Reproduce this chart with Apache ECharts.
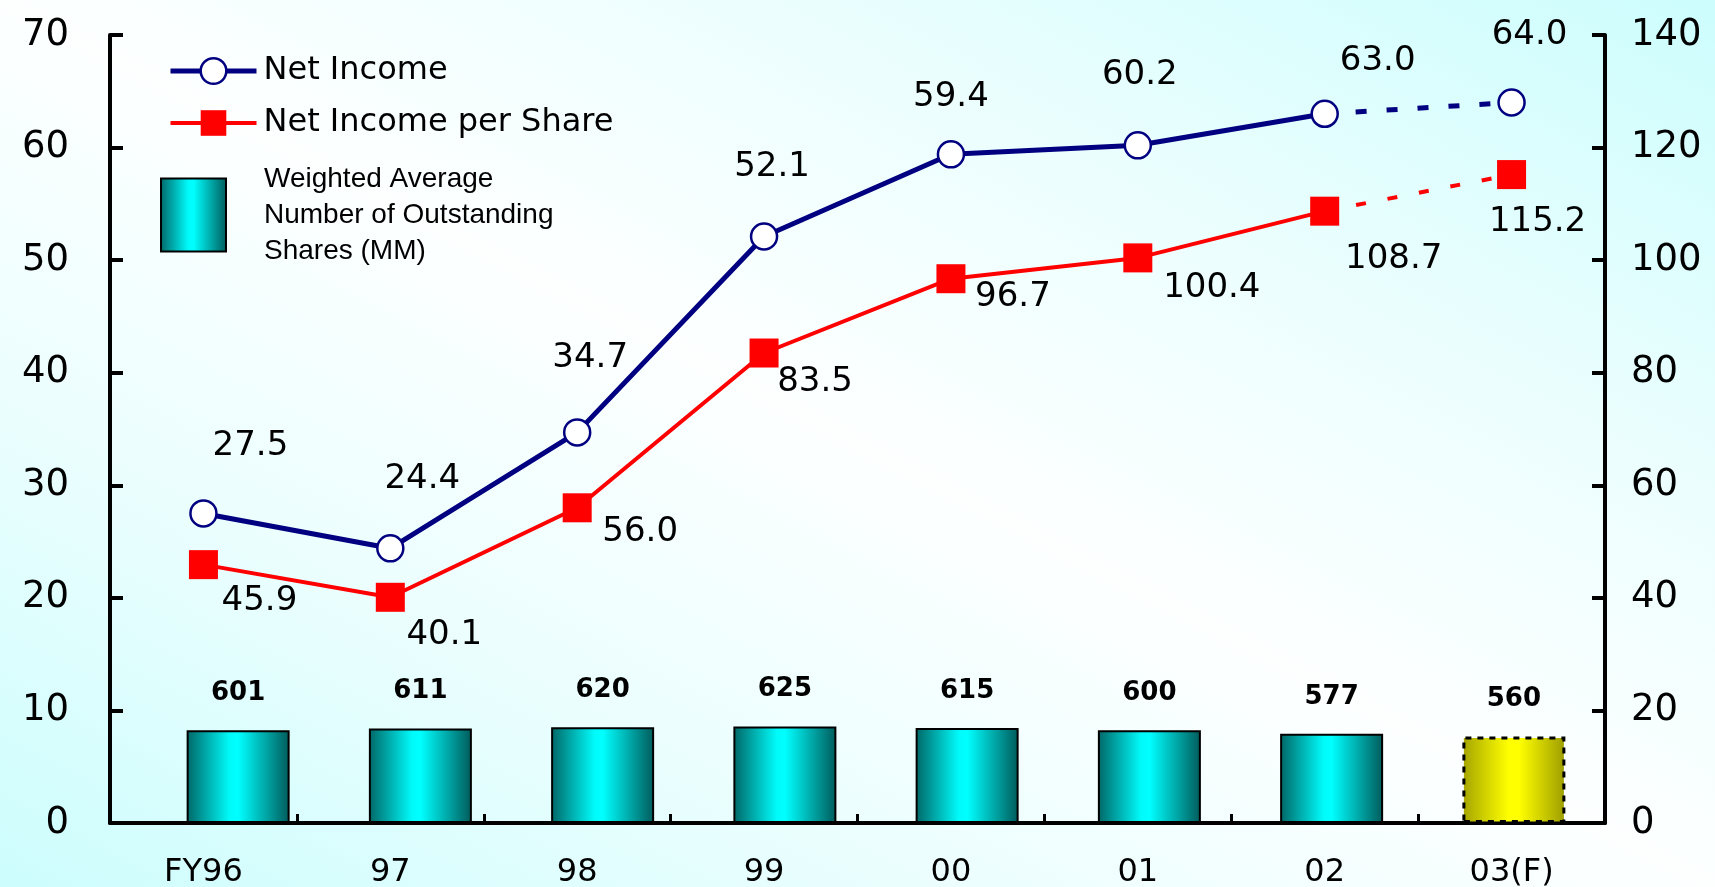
<!DOCTYPE html>
<html><head><meta charset="utf-8">
<script src="https://cdn.jsdelivr.net/npm/echarts@6/dist/echarts.min.js"></script>
<style>
html,body{margin:0;padding:0;width:1715px;height:887px;overflow:hidden;
background:linear-gradient(to bottom left,#cdfdfd 0%,#ecfefe 28%,#fdffff 50%,#ecfefe 72%,#cdfdfd 100%);}
#c{width:1715px;height:887px;}
</style></head><body><div id="c"></div>
<script>
// ---- data ----
const categories = ['FY96', '97', '98', '99', '00', '01', '02', '03(F)'];
const netIncome = [27.5, 24.4, 34.7, 52.1, 59.4, 60.2, 63.0, 64.0];
const netIncomePerShare = [45.9, 40.1, 56.0, 83.5, 96.7, 100.4, 108.7, 115.2];
const sharesOutstanding = [601, 611, 620, 625, 615, 600, 577, 560];
const leftAxisTicks = [0, 10, 20, 30, 40, 50, 60, 70];
const rightAxisTicks = [0, 20, 40, 60, 80, 100, 120, 140];
const forecastIndex = 7;

const NI = 'Net Income';
const NPS = 'Net Income per Share';
const SH = 'Weighted Average Number of Outstanding Shares (MM)';

// ---- styling (label offsets in px, not data) ----
const niLabelOffset = [[47,-67],[32,-69],[13,-74],[8,-69],[0,-57],[2,-70],[53,-53],[18,-67]];
const npsLabelOffset = [[56,37],[54,38],[63,24],[51,29],[62,18],[74,30],[69,48],[26,48]];

const FONT = '"DejaVu Sans", "Liberation Sans", sans-serif';
const FONT2 = '"Liberation Sans", Arial, sans-serif';
const cyanGrad = new echarts.graphic.LinearGradient(0, 0, 1, 0, [
  {offset: 0, color: '#006666'}, {offset: 0.42, color: '#00fafa'},
  {offset: 0.5, color: '#00ffff'}, {offset: 1, color: '#005a5a'}]);
const yellowGrad = new echarts.graphic.LinearGradient(0, 0, 1, 0, [
  {offset: 0, color: '#a4a400'}, {offset: 0.45, color: '#ffff00'},
  {offset: 0.55, color: '#ffff00'}, {offset: 1, color: '#9c9c00'}]);

const lastActual = forecastIndex - 1;
function lineData(values, offsets, solid) {
  return values.map((v, i) => {
    if (solid) {
      if (i > lastActual) return '-';
      return {value: v, label: {offset: offsets[i]}};
    }
    if (i < lastActual) return '-';
    if (i === lastActual) return {value: v, symbol: 'none', label: {show: false}};
    return {value: v, label: {offset: offsets[i]}};
  });
}
const labelBase = {show: true, position: 'inside', fontSize: 34, color: '#000', fontFamily: FONT,
  align: 'center', verticalAlign: 'middle',
  formatter: p => Number(p.value).toFixed(1)};

const niStyle = {
  type: 'line', name: NI, xAxisIndex: 0, yAxisIndex: 0, symbol: 'circle', symbolSize: 26,
  itemStyle: {color: '#ffffff', borderColor: '#000080', borderWidth: 2.5},
  label: labelBase, z: 5
};
const npsStyle = {
  type: 'line', name: NPS, xAxisIndex: 0, yAxisIndex: 1, symbol: 'rect', symbolSize: 29,
  itemStyle: {color: '#ff0000'},
  label: labelBase, z: 4
};

const option = {
  animation: false,
  backgroundColor: 'transparent',
  grid: [
    {left: 110, right: 110, top: 35, bottom: 64, containLabel: false, outerBoundsMode: 'none'},
    {left: 147, right: 110, top: 35, bottom: 64, containLabel: false, outerBoundsMode: 'none'}
  ],
  legend: [
    {
      data: [
        {name: NI, lineStyle: {width: 5, color: '#000080'}, itemStyle: {borderWidth: 2.5, borderColor: '#000080', color: '#fff'}},
        {name: NPS, lineStyle: {width: 4, color: '#ff0000'}}
      ],
      orient: 'vertical', left: 168, top: 55, padding: 0, itemWidth: 86, itemHeight: 32, itemGap: 20,
      selectedMode: false,
      textStyle: {fontSize: 32, color: '#000', fontFamily: FONT, padding: [0, 0, 0, 2]}
    },
    {
      data: [SH], icon: 'rect', orient: 'vertical', left: 160, top: 161, padding: 0,
      itemWidth: 65, itemHeight: 73, selectedMode: false,
      itemStyle: {borderColor: '#000', borderWidth: 2},
      formatter: () => 'Weighted Average\nNumber of Outstanding\nShares (MM)',
      textStyle: {fontSize: 28, lineHeight: 36, color: '#000', fontFamily: FONT2, padding: [0, 0, 0, 33]}
    }
  ],
  xAxis: [
    {
      type: 'category', gridIndex: 0, data: categories, boundaryGap: true,
      axisLine: {lineStyle: {color: '#000', width: 4}},
      axisTick: {show: true, inside: true, length: 9, lineStyle: {color: '#000', width: 3}},
      axisLabel: {fontSize: 32, color: '#000', margin: 34, fontFamily: FONT}
    },
    {type: 'category', gridIndex: 1, data: categories, boundaryGap: true, show: false}
  ],
  yAxis: [
    {
      type: 'value', gridIndex: 0, position: 'left', min: leftAxisTicks[0], max: leftAxisTicks[leftAxisTicks.length - 1],
      interval: leftAxisTicks[1] - leftAxisTicks[0],
      axisLine: {show: true, lineStyle: {color: '#000', width: 4}},
      axisTick: {show: true, inside: true, length: 13, lineStyle: {color: '#000', width: 4}},
      axisLabel: {fontSize: 37, color: '#000', margin: 41, fontFamily: FONT},
      splitLine: {show: false}
    },
    {
      type: 'value', gridIndex: 0, position: 'right', min: rightAxisTicks[0], max: rightAxisTicks[rightAxisTicks.length - 1],
      interval: rightAxisTicks[1] - rightAxisTicks[0],
      axisLine: {show: true, lineStyle: {color: '#000', width: 4}},
      axisTick: {show: true, inside: true, length: 13, lineStyle: {color: '#000', width: 4}},
      axisLabel: {fontSize: 37, color: '#000', margin: 26, fontFamily: FONT},
      splitLine: {show: false}
    },
    {type: 'value', gridIndex: 1, show: false, min: 0, max: 5100}
  ],
  series: [
    {
      type: 'bar', name: SH, xAxisIndex: 1, yAxisIndex: 2, barWidth: 103,
      itemStyle: {color: cyanGrad, borderColor: '#000', borderWidth: 2},
      label: {show: true, position: 'top', distance: 24, fontSize: 26, fontWeight: 'bold',
        color: '#000', fontFamily: FONT},
      data: sharesOutstanding.map((v, i) => i === forecastIndex
        ? {value: v, itemStyle: {color: yellowGrad, borderColor: '#000', borderWidth: 3, borderType: [6, 6]}}
        : v),
      z: 2
    },
    Object.assign({}, niStyle, {lineStyle: {color: '#000080', width: 5},
      data: lineData(netIncome, niLabelOffset, true)}),
    Object.assign({}, niStyle, {lineStyle: {color: '#000080', width: 5, type: [11, 20]},
      data: lineData(netIncome, niLabelOffset, false)}),
    Object.assign({}, npsStyle, {lineStyle: {color: '#ff0000', width: 4},
      data: lineData(netIncomePerShare, npsLabelOffset, true)}),
    Object.assign({}, npsStyle, {lineStyle: {color: '#ff0000', width: 4, type: [10, 22]},
      data: lineData(netIncomePerShare, npsLabelOffset, false)})
  ]
};
const chart = echarts.init(document.getElementById('c'), null, {renderer: 'canvas'});
chart.setOption(option);
</script></body></html>
